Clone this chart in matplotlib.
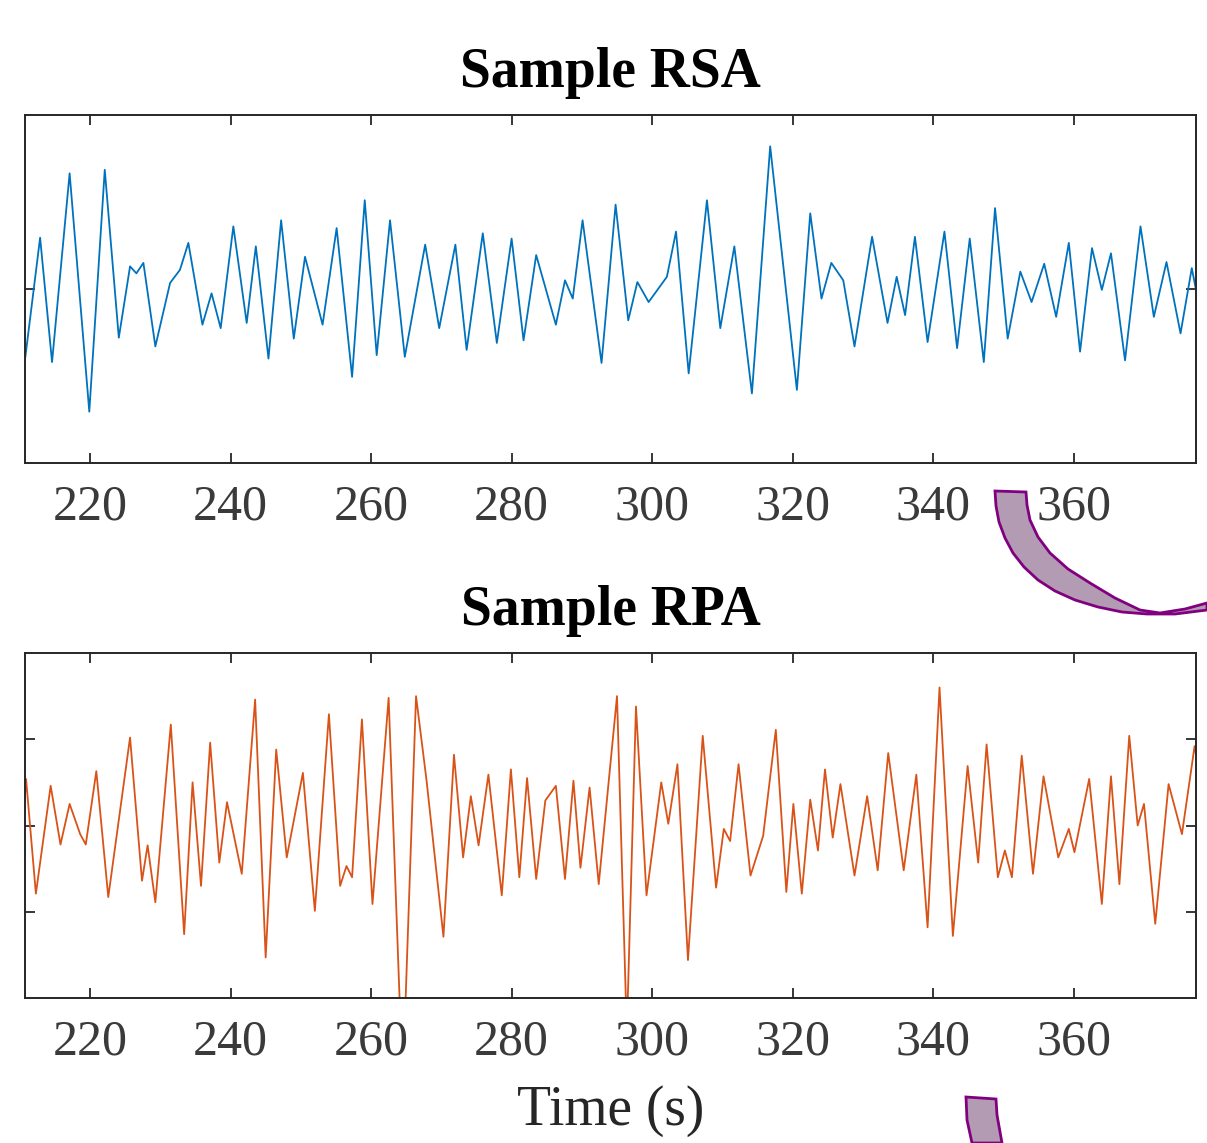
import matplotlib
matplotlib.use('Agg')
import matplotlib.pyplot as plt
from matplotlib.patches import Polygon

# --- data (turning points of each trace) ---
rsa_time = [210.8, 212.9, 214.6, 217.1, 219.9, 222.1, 224.1, 225.7, 226.6, 227.6,
            229.3, 231.4, 232.8, 234.0, 236.0, 237.3, 238.6, 240.4, 242.3, 243.6,
            245.4, 247.2, 249.0, 250.6, 253.1, 255.1, 257.3, 259.1, 260.8, 262.7,
            264.8, 267.7, 269.7, 272.0, 273.6, 275.9, 277.9, 280.0, 281.7, 283.5,
            286.3, 287.6, 288.7, 290.1, 292.8, 294.8, 296.6, 297.9, 299.5, 302.1,
            303.4, 305.2, 307.8, 309.7, 311.7, 314.2, 316.8, 320.6, 322.5, 324.1,
            325.5, 327.2, 328.8, 331.3, 333.5, 334.8, 336.0, 337.4, 339.2, 341.6,
            343.4, 345.2, 347.2, 348.8, 350.6, 352.4, 354.0, 355.8, 357.5, 359.3,
            360.9, 362.6, 364.0, 365.3, 367.3, 369.5, 371.4, 373.2, 375.2, 376.8,
            377.4]
rsa_value = [-0.78, 0.59, -0.84, 1.33, -1.41, 1.37, -0.56, 0.26, 0.18, 0.30,
             -0.66, 0.07, 0.22, 0.53, -0.41, -0.05, -0.45, 0.72, -0.39, 0.49,
             -0.80, 0.79, -0.57, 0.37, -0.41, 0.70, -1.01, 1.02, -0.76, 0.79,
             -0.78, 0.51, -0.45, 0.51, -0.70, 0.64, -0.62, 0.58, -0.59, 0.39,
             -0.41, 0.10, -0.11, 0.79, -0.85, 0.97, -0.36, 0.08, -0.15, 0.14,
             0.66, -0.97, 1.02, -0.45, 0.49, -1.20, 1.64, -1.16, 0.87, -0.11,
             0.30, 0.10, -0.66, 0.60, -0.39, 0.14, -0.30, 0.60, -0.61, 0.66,
             -0.68, 0.58, -0.84, 0.93, -0.57, 0.20, -0.15, 0.29, -0.32, 0.53,
             -0.72, 0.47, -0.01, 0.41, -0.82, 0.72, -0.32, 0.31, -0.51, 0.24,
             -0.01]

rpa_time = [210.7, 210.9, 212.3, 214.4, 215.8, 217.1, 218.6, 219.4, 220.9, 222.6,
            225.7, 227.4, 228.2, 229.3, 231.5, 233.4, 234.6, 235.8, 237.1, 238.4,
            239.5, 241.6, 243.5, 245.0, 246.5, 248.0, 250.3, 252.0, 254.0, 255.6,
            256.5, 257.3, 258.7, 260.2, 262.5, 264.5, 266.4, 267.9, 270.3, 271.8,
            273.1, 274.2, 275.3, 276.7, 278.6, 279.9, 281.1, 282.2, 283.5, 284.8,
            286.3, 287.6, 288.8, 289.8, 291.1, 292.4, 295.0, 296.4, 297.7, 299.2,
            301.3, 302.3, 303.6, 305.1, 307.2, 309.1, 310.2, 311.1, 312.3, 314.0,
            315.8, 317.6, 319.1, 320.1, 321.3, 322.5, 323.6, 324.6, 325.7, 326.8,
            328.8, 330.6, 332.1, 333.6, 335.8, 337.6, 339.2, 340.9, 342.8, 344.9,
            346.4, 347.6, 349.2, 350.2, 351.2, 352.6, 354.2, 355.7, 357.8, 359.3,
            360.1, 362.2, 364.0, 365.3, 366.5, 367.9, 369.1, 370.0, 371.6, 373.5,
            375.4, 377.2, 377.7]
rpa_value = [0.30, 0.54, -0.79, 0.46, -0.22, 0.25, -0.10, -0.22, 0.63, -0.83,
             1.02, -0.64, -0.23, -0.89, 1.17, -1.26, 0.50, -0.70, 0.96, -0.43,
             0.27, -0.56, 1.46, -1.53, 0.88, -0.37, 0.61, -0.99, 1.29, -0.70,
             -0.47, -0.60, 1.23, -0.91, 1.48, -3.00, 1.50, 0.52, -1.29, 0.82,
             -0.37, 0.34, -0.23, 0.59, -0.81, 0.65, -0.60, 0.55, -0.62, 0.29,
             0.46, -0.62, 0.52, -0.49, 0.44, -0.68, 1.50, -2.40, 1.38, -0.81,
             0.50, 0.02, 0.71, -1.56, 1.04, -0.72, -0.04, -0.18, 0.71, -0.58,
             -0.12, 1.11, -0.77, 0.25, -0.79, 0.30, -0.29, 0.65, -0.14, 0.48,
             -0.58, 0.34, -0.52, 0.84, -0.52, 0.59, -1.18, 1.60, -1.28, 0.69,
             -0.43, 0.94, -0.60, -0.29, -0.60, 0.81, -0.56, 0.57, -0.37, -0.04,
             -0.31, 0.54, -0.91, 0.57, -0.68, 1.04, 0.00, 0.25, -1.14, 0.48,
             -0.10, 0.92, 0.69]

x_ticks = [220, 240, 260, 280, 300, 320, 340, 360]
titles = ['Sample RSA', 'Sample RPA']

plt.rcParams['font.family'] = 'Liberation Serif'

W, H = 1207, 1143
fig = plt.figure(figsize=(W / 100, H / 100), dpi=100)

def px_box(left, top, right, bottom):
    return [left / W, 1 - bottom / H, (right - left) / W, (bottom - top) / H]

ax1 = fig.add_axes(px_box(25, 115, 1196, 463))
ax2 = fig.add_axes(px_box(25, 653, 1196, 998))

ax1.plot(rsa_time, rsa_value, color='#0072BD', linewidth=1.3, solid_joinstyle='round')
ax2.plot(rpa_time, rpa_value, color='#D95319', linewidth=1.3, solid_joinstyle='round')

for ax, title in zip([ax1, ax2], titles):
    ax.set_xlim(210.75, 377.4)
    ax.set_ylim(-2, 2)
    ax.set_xticks(x_ticks)
    ax.set_title(title, fontsize=40, fontweight='bold', pad=20)
    ax.tick_params(direction='in', length=7, width=1.3, top=True, right=True,
                   labelsize=36, labelcolor='#3a3a3a', color='#262626', pad=15)
    ax.tick_params(axis='y', labelleft=False)
    for sp in ax.spines.values():
        sp.set_color('#262626')
        sp.set_linewidth(1.4)

ax1.set_yticks([0])
ax2.set_yticks([-1, 0, 1])
ax2.set_xlabel('Time (s)', fontsize=40, color='#262626', labelpad=14)

# decorative purple connector arcs on the right
def fig_poly(points):
    verts = [(x / W, 1 - y / H) for x, y in points]
    return Polygon(verts, closed=True, transform=fig.transFigure,
                   facecolor='#b39bb3', edgecolor='#800080', linewidth=2,
                   clip_on=False)

outer = [(995, 491), (996, 506), (999, 522), (1005, 538), (1013, 553), (1024, 567),
         (1038, 580), (1055, 591), (1075, 600), (1098, 607), (1122, 612), (1147, 614),
         (1175, 614), (1207, 610)]
inner = [(1207, 603), (1185, 609), (1160, 613), (1140, 610), (1115, 598), (1090, 583),
         (1068, 569), (1050, 553), (1038, 537), (1030, 520), (1027, 505), (1026, 492)]
fig.patches.append(fig_poly(outer + inner))
fig.patches.append(fig_poly([(966, 1097), (996, 1099), (997, 1115), (1002, 1143),
                             (972, 1143), (967, 1120)]))

fig.savefig('out.png', dpi=100)
